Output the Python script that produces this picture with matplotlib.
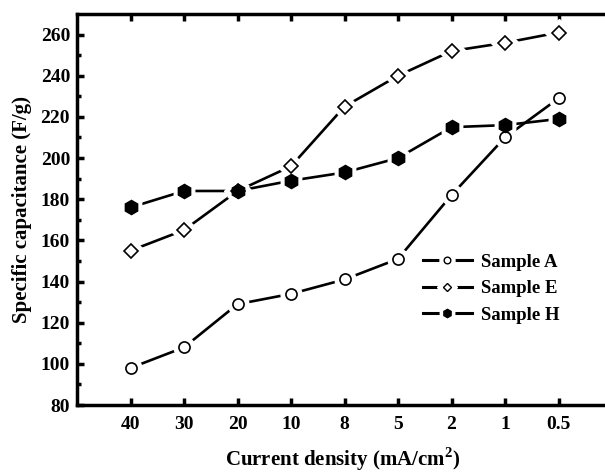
import numpy as np
import matplotlib.pyplot as plt
from matplotlib.legend_handler import HandlerTuple

plt.rcParams['font.family'] = ['Liberation Serif', 'DejaVu Serif']
plt.rcParams['font.weight'] = 'bold'
plt.rcParams['mathtext.fontset'] = 'custom'
plt.rcParams['mathtext.rm'] = 'Liberation Serif:bold'
plt.rcParams['mathtext.bf'] = 'Liberation Serif:bold'

currents = ['40', '30', '20', '10', '8', '5', '2', '1', '0.5']
sample_a = [98, 108, 129, 134, 141, 151, 182, 210, 229]
sample_e = [155, 165, 184, 196, 225, 240, 252, 256, 261]
sample_h = [176, 184, 184, 189, 193, 200, 215, 216, 219]

fig = plt.figure(figsize=(6.05, 4.73), dpi=100)
ax = fig.add_axes([77 / 605, 1 - 405 / 473, (612 - 77) / 605, (405 - 14) / 473])

x = np.arange(len(currents))
handles, labels = [], []

def draw(y, marker, face, size, label):
    ax.plot(x, y, '-', color='black', lw=1.9, zorder=2)
    # white halo leaves a small gap between line and marker
    ax.plot(x, y, marker, ls='none', ms=size + 7, mfc='white', mec='white', zorder=3)
    ax.plot(x, y, marker, ls='none', ms=size, mfc=face, mec='black', mew=1.2, zorder=4)
    l1, = ax.plot([], [], '-', color='black', lw=2.2)
    l2, = ax.plot([], [], marker, ls='none', ms=size * 0.6 + 6, mfc='white', mec='white')
    l3, = ax.plot([], [], marker, ls='none', ms=size * 0.6, mfc=face, mec='black', mew=1.0)
    handles.append((l1, l2, l3))
    labels.append(label)

draw(sample_a, 'o', 'white', 8, 'Sample A')
draw(sample_e, 'D', 'white', 7.5, 'Sample E')
draw(sample_h, 'h', 'black', 10, 'Sample H')

ax.set_xlim(-1, 9)
ax.set_ylim(80, 270)
ax.set_xticks(x)
ax.set_xticklabels(currents)
ax.set_yticks(np.arange(80, 261, 20))
ax.set_yticks(np.arange(90, 261, 20), minor=True)

ax.tick_params(which='both', direction='in', top=True, right=True, width=2.5, labelsize=14)
ax.tick_params(which='major', length=5)
ax.tick_params(axis='x', which='major', pad=8)
ax.tick_params(axis='y', which='major', pad=5)
ax.tick_params(which='minor', length=3)
for s in ax.spines.values():
    s.set_linewidth(2.5)
for lab in ax.get_xticklabels() + ax.get_yticklabels():
    lab.set_fontweight('bold')

fig.text(343 / 605, 1 - 459 / 473, 'Current density (mA/cm$^{2}$)', fontsize=15,
         fontweight='bold', ha='center', va='center')
ax.set_ylabel('Specific capacitance (F/g)', fontsize=15, fontweight='bold', labelpad=6)

leg = ax.legend(handles, labels, handler_map={tuple: HandlerTuple(ndivide=1, pad=0)},
                loc='upper left', bbox_to_anchor=(0.615, 0.43), frameon=False,
                prop={'size': 13.5, 'weight': 'bold'}, handlelength=2.6, labelspacing=0.5,
                handletextpad=0.5)

fig.savefig('out.png', dpi=100)
